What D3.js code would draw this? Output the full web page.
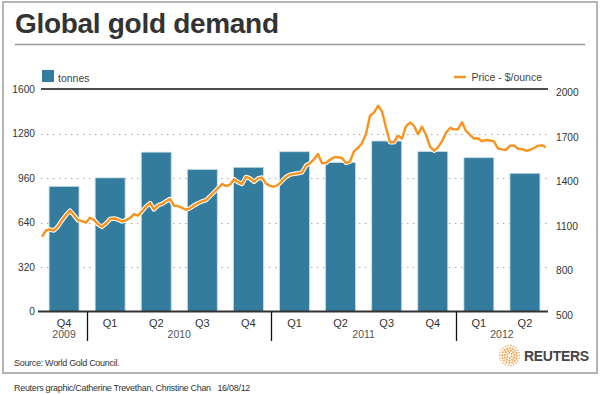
<!DOCTYPE html>
<html>
<head>
<meta charset="utf-8">
<script src="https://cdn.jsdelivr.net/npm/d3@7"></script>
<style>
  body { margin: 0; background: #fff; }
  svg { display: block; font-family: "Liberation Sans", Arial, sans-serif; }
</style>
</head>
<body>
<div id="chart"></div>
<script>
// DATA
const quarters = ["Q4", "Q1", "Q2", "Q3", "Q4", "Q1", "Q2", "Q3", "Q4", "Q1", "Q2"];
const years = ["2009", "2010", "2010", "2010", "2010", "2011", "2011", "2011", "2011", "2012", "2012"];
const tonnes = [900, 961, 1146, 1022, 1037, 1149, 1071, 1226, 1150, 1106, 994];

// weekly gold price, $/ounce
const price = [
  1004, 1046, 1053, 1046, 1074, 1115, 1150, 1180, 1149, 1115,
  1109, 1099, 1132, 1118, 1088, 1071, 1093, 1124, 1127, 1120,
  1107, 1115, 1130, 1157, 1146, 1176, 1207, 1231, 1188, 1215,
  1225, 1243, 1258, 1213, 1211, 1199, 1186, 1196, 1215, 1230,
  1242, 1251, 1277, 1304, 1331, 1359, 1345, 1355, 1392, 1372,
  1360, 1407, 1397, 1374, 1397, 1403, 1362, 1347, 1341, 1353,
  1380, 1407, 1423, 1428, 1432, 1438, 1484, 1500, 1526, 1562,
  1499, 1502, 1523, 1540, 1540, 1535, 1502, 1511, 1581, 1602,
  1635, 1697, 1820, 1841, 1887, 1849, 1740, 1641, 1641, 1685,
  1666, 1749, 1774, 1753, 1695, 1746, 1691, 1611, 1584, 1608,
  1647, 1705, 1737, 1728, 1729, 1776, 1717, 1691, 1666, 1668,
  1648, 1656, 1653, 1647, 1598, 1593, 1589, 1618, 1620, 1597,
  1595, 1584, 1589, 1602, 1617, 1621, 1607
];

const leftTicks = [0, 320, 640, 960, 1280, 1600];
const rightTicks = [500, 800, 1100, 1400, 1700, 2000];
const gridTicks = [320, 640, 960, 1280];

// SIZES & COLORS
const width = 600;
const height = 394;
const plotLeft = 41;
const plotRight = 548;
const plotTop = 89;
const plotBottom = 311.5;
const barColor = "#347c9d";
const lineColor = "#f7931e";

// SETUP SVG
const svg = d3.select("#chart")
  .append("svg")
  .attr("width", width)
  .attr("height", height);

svg.append("rect")
  .attr("width", width)
  .attr("height", height)
  .attr("fill", "#fff");

// FRAME
svg.append("rect")
  .attr("x", 3)
  .attr("y", 2)
  .attr("width", 594)
  .attr("height", 371)
  .attr("fill", "none")
  .attr("stroke", "#b4b4b4")
  .attr("stroke-width", 2);

// TITLE
svg.append("text")
  .attr("x", 15)
  .attr("y", 33)
  .attr("font-size", 28)
  .attr("font-weight", "bold")
  .attr("letter-spacing", -0.3)
  .attr("fill", "#333")
  .text("Global gold demand");

svg.append("line")
  .attr("x1", 15).attr("x2", 585)
  .attr("y1", 44.5).attr("y2", 44.5)
  .attr("stroke", "#999")
  .attr("stroke-width", 1.5);

// SCALES
const x = d3.scaleBand()
  .domain(d3.range(tonnes.length))
  .range([plotLeft, plotRight])
  .paddingInner(0.35)
  .paddingOuter(0.175);

const yLeft = d3.scaleLinear().domain([0, 1600]).range([plotBottom, plotTop]);
const yRight = d3.scaleLinear().domain([500, 2000]).range([plotBottom, plotTop]);

const xLine = d3.scaleLinear()
  .domain([0, price.length - 1])
  .range([plotLeft + 1, plotRight - 2]);

// GRIDLINES
svg.append("g")
  .selectAll("line")
  .data(gridTicks)
  .enter().append("line")
  .attr("x1", plotLeft).attr("x2", plotRight)
  .attr("y1", d => Math.round(yLeft(d)) + 0.5)
  .attr("y2", d => Math.round(yLeft(d)) + 0.5)
  .attr("stroke", "#aaa")
  .attr("stroke-width", 1.2)
  .attr("stroke-dasharray", "1.5,4.5");

// TOP LINE
svg.append("line")
  .attr("x1", plotLeft).attr("x2", plotRight)
  .attr("y1", yLeft(1600)).attr("y2", yLeft(1600))
  .attr("stroke", "#111")
  .attr("stroke-width", 1.3);

// BARS
svg.append("g")
  .selectAll("rect")
  .data(tonnes)
  .enter().append("rect")
  .attr("x", (d, i) => x(i))
  .attr("y", d => yLeft(d))
  .attr("width", x.bandwidth())
  .attr("height", d => yLeft(0) - yLeft(d))
  .attr("fill", barColor)
  .attr("stroke", "#c9dde8")
  .attr("stroke-width", 0.8);

// PRICE LINE
const line = d3.line()
  .x((d, i) => xLine(i))
  .y(d => yRight(d));

svg.append("path")
  .datum(price)
  .attr("d", line)
  .attr("fill", "none")
  .attr("stroke", "#fff")
  .attr("stroke-width", 4.5)
  .attr("stroke-linejoin", "round");

svg.append("path")
  .datum(price)
  .attr("d", line)
  .attr("fill", "none")
  .attr("stroke", lineColor)
  .attr("stroke-width", 2.4)
  .attr("stroke-linejoin", "round");

// BOTTOM AXIS
svg.append("line")
  .attr("x1", plotLeft - 3).attr("x2", plotRight)
  .attr("y1", plotBottom).attr("y2", plotBottom)
  .attr("stroke", "#333")
  .attr("stroke-width", 2);

// LEFT AXIS LABELS
svg.append("g")
  .selectAll("text")
  .data(leftTicks)
  .enter().append("text")
  .attr("x", 35)
  .attr("y", d => yLeft(d) + 3.5)
  .attr("text-anchor", "end")
  .attr("font-size", 10.2)
  .attr("fill", "#333")
  .text(d => d);

// RIGHT AXIS LABELS
svg.append("g")
  .selectAll("text")
  .data(rightTicks)
  .enter().append("text")
  .attr("x", 556)
  .attr("y", d => yRight(d) + 7)
  .attr("font-size", 10.2)
  .attr("fill", "#333")
  .text(d => d);

// QUARTER LABELS
svg.append("g")
  .selectAll("text")
  .data(quarters)
  .enter().append("text")
  .attr("x", (d, i) => x(i) + x.bandwidth() / 2)
  .attr("y", 327)
  .attr("text-anchor", "middle")
  .attr("font-size", 11)
  .attr("fill", "#333")
  .text(d => d);

// YEAR GROUPS
const yearGroups = d3.groups(years.map((y, i) => ({ year: y, i: i })), d => d.year)
  .map(([year, items]) => ({
    year: year,
    start: plotLeft + items[0].i * x.step(),
    end: plotLeft + (items[items.length - 1].i + 1) * x.step()
  }));

svg.append("g")
  .selectAll("text")
  .data(yearGroups)
  .enter().append("text")
  .attr("x", d => (d.start + d.end) / 2)
  .attr("y", 338)
  .attr("text-anchor", "middle")
  .attr("font-size", 10.5)
  .attr("fill", "#555")
  .text(d => d.year);

svg.append("g")
  .selectAll("line")
  .data(yearGroups.slice(1))
  .enter().append("line")
  .attr("x1", d => Math.round(d.start) + 0.5)
  .attr("x2", d => Math.round(d.start) + 0.5)
  .attr("y1", plotBottom)
  .attr("y2", 341)
  .attr("stroke", "#111")
  .attr("stroke-width", 1.3);

// LEGEND
svg.append("rect")
  .attr("x", 42).attr("y", 70)
  .attr("width", 12).attr("height", 12)
  .attr("fill", barColor);

svg.append("text")
  .attr("x", 58).attr("y", 81.5)
  .attr("font-size", 10.5)
  .attr("fill", "#444")
  .text("tonnes");

svg.append("text")
  .attr("x", 542).attr("y", 81)
  .attr("text-anchor", "end")
  .attr("font-size", 10.5)
  .attr("fill", "#444")
  .text("Price - $/ounce");

svg.append("line")
  .attr("x1", 454).attr("x2", 466)
  .attr("y1", 77).attr("y2", 77)
  .attr("stroke", lineColor)
  .attr("stroke-width", 2.4);

// SOURCE & CREDIT
svg.append("text")
  .attr("x", 14).attr("y", 366)
  .attr("font-size", 9)
  .attr("letter-spacing", -0.3)
  .attr("fill", "#333")
  .text("Source: World Gold Council.");

svg.append("text")
  .attr("x", 14).attr("y", 391)
  .attr("font-size", 9)
  .attr("letter-spacing", -0.3)
  .attr("fill", "#333")
  .attr("xml:space", "preserve")
  .text("Reuters graphic/Catherine Trevethan, Christine Chan   16/08/12");

// REUTERS LOGO
const logo = svg.append("g")
  .attr("transform", "translate(509.5,355.5)");

[[2.5, 6, 0.9], [5, 11, 1.1], [7.5, 16, 1.0], [10, 22, 0.75]].forEach(function (ring) {
  const r = ring[0], n = ring[1], dot = ring[2];
  logo.selectAll(null)
    .data(d3.range(n))
    .enter().append("circle")
    .attr("cx", d => r * Math.cos(2 * Math.PI * d / n + r))
    .attr("cy", d => r * Math.sin(2 * Math.PI * d / n + r))
    .attr("r", dot)
    .attr("fill", "#f5a04a");
});

svg.append("text")
  .attr("x", 524).attr("y", 361)
  .attr("font-size", 14)
  .attr("font-weight", "bold")
  .attr("letter-spacing", -0.3)
  .attr("fill", "#444")
  .text("REUTERS");
</script>
</body>
</html>
